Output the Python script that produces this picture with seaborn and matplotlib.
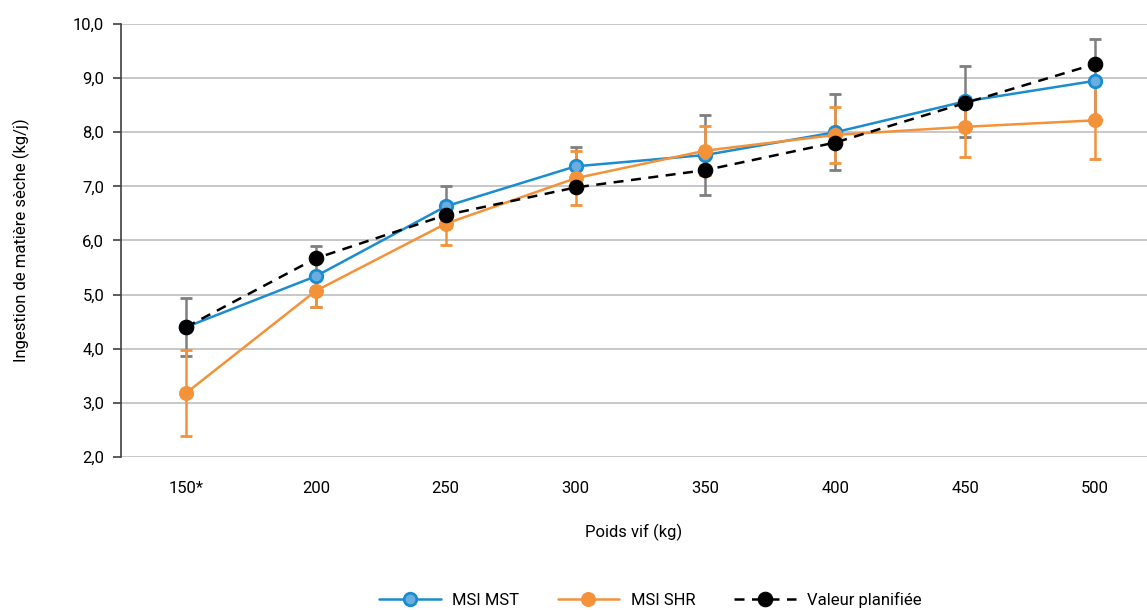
import pandas as pd
import matplotlib.pyplot as plt
import numpy as np
import seaborn as sns

# data
poids = ['150*', '200', '250', '300', '350', '400', '450', '500']
msi_mst = [4.40, 5.34, 6.63, 7.37, 7.58, 8.00, 8.57, 8.95]
msi_mst_err = [0.53, 0.56, 0.38, 0.36, 0.74, 0.70, 0.66, 0.78]
msi_shr = [3.18, 5.07, 6.31, 7.15, 7.66, 7.95, 8.10, 8.22]
msi_shr_err = [0.80, 0.29, 0.40, 0.50, 0.45, 0.52, 0.55, 0.72]
planifie = [4.40, 5.67, 6.47, 6.98, 7.30, 7.81, 8.54, 9.26]

sns.set_style('white')
plt.rcParams['font.family'] = ['Roboto', 'DejaVu Sans']
plt.rcParams['text.color'] = 'black'
plt.rcParams['xtick.color'] = 'black'
plt.rcParams['ytick.color'] = 'black'
plt.rcParams['axes.labelcolor'] = 'black'

blue = '#1a8ccf'
blue_face = '#6aaee0'
orange = '#f4923a'
grey = '#7f7f7f'

pos = np.arange(len(poids))
df = pd.DataFrame({'pos': pos, 'mst': msi_mst, 'shr': msi_shr, 'plan': planifie})

fig = plt.figure(figsize=(11.47, 6.10), dpi=100)
ax = fig.add_axes([0.1055, 0.2508, 0.8945, 0.7099])

# error bars
ax.errorbar(pos, msi_mst, yerr=msi_mst_err, fmt='none', ecolor=grey, elinewidth=1.8,
            capsize=4, capthick=2, zorder=2)
ax.errorbar(pos, msi_shr, yerr=msi_shr_err, fmt='none', ecolor=orange, elinewidth=1.8,
            capsize=4, capthick=2, zorder=3)

# lines
sns.lineplot(data=df, x='pos', y='mst', ax=ax, color=blue, lw=1.8, marker='o', ms=9,
             markerfacecolor=blue_face, markeredgecolor=blue, markeredgewidth=2,
             label='MSI MST', zorder=4)
sns.lineplot(data=df, x='pos', y='shr', ax=ax, color=orange, lw=1.8, marker='o', ms=10,
             markerfacecolor=orange, markeredgecolor=orange,
             label='MSI SHR', zorder=5)
sns.lineplot(data=df, x='pos', y='plan', ax=ax, color='black', lw=1.8, marker='o', ms=10.5,
             markerfacecolor='black', markeredgecolor='black', dashes=False,
             label='Valeur planifiée', zorder=6)
ax.lines[-1].set_linestyle((0, (4, 3)))

ax.set_xlim(-0.5, 7.4)
ax.set_ylim(2, 10)
ax.set_yticks(np.arange(2, 10.01, 1))
ax.set_yticklabels([f'{v:.1f}'.replace('.', ',') for v in np.arange(2, 10.01, 1)])
ax.set_xticks(pos)
ax.set_xticklabels(poids)
ax.yaxis.grid(True, color='#bfbfbf', lw=1.2)
ax.set_axisbelow(True)

for s in ['top', 'right', 'bottom']:
    ax.spines[s].set_visible(False)
ax.spines['left'].set_color('#404040')
ax.spines['left'].set_linewidth(1.2)
ax.tick_params(axis='y', left=True, length=6, width=1.2, color='#404040',
               labelsize=12, pad=6)
ax.tick_params(axis='x', bottom=False, labelsize=12, pad=14)

ax.set_xlabel('Poids vif (kg)', fontsize=12, labelpad=20)
ax.set_ylabel('Ingestion de matière sèche (kg/j)', fontsize=12, labelpad=31)

handles, labels = ax.get_legend_handles_labels()
ax.get_legend().remove()
fig.legend(handles, labels, loc='center', bbox_to_anchor=(0.567, 0.017), ncol=3,
           frameon=False, fontsize=12, handlelength=3.7, handletextpad=0.7,
           columnspacing=2.3)

fig.savefig('out.png', dpi=100)
